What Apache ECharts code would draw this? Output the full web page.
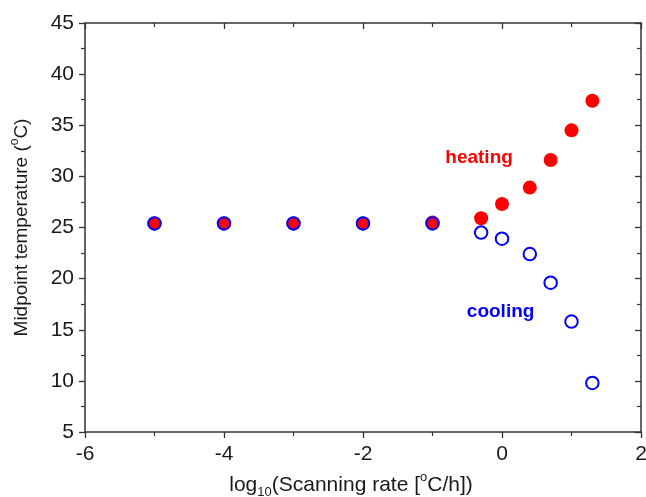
<!DOCTYPE html>
<html>
<head>
<meta charset="utf-8">
<script src="https://cdn.jsdelivr.net/npm/echarts@6/dist/echarts.min.js"></script>
<style>
  html, body { margin: 0; padding: 0; background: #fff; }
  #chart { width: 646px; height: 497px; }
</style>
</head>
<body>
<div id="chart"></div>
<script>
// log10 of the scanning rate (°C/h)
const logRates = [-5, -4, -3, -2, -1, -0.3, 0, 0.4, 0.7, 1.0, 1.3];
// midpoint temperatures (°C)
const heatingTemps = [25.4, 25.4, 25.4, 25.4, 25.5, 25.9, 27.3, 28.9, 31.6, 34.5, 37.4];
const coolingTemps = [25.4, 25.4, 25.4, 25.4, 25.4, 24.5, 23.9, 22.4, 19.6, 15.8, 9.8];
// axis ranges and tick steps
const xRange = [-6, 2], xStep = 2;
const yRange = [5, 45], yStep = 5;
// in-plot annotations
const annotationText = ['heating', 'cooling'];
const annotationColor = ['#ff0000', '#0000ff'];
const annotationAt = [[-0.33, 31.8], [-0.02, 16.75]];

const FONT = '"Liberation Sans", Arial, sans-serif';
const INK = '#1a1a1a';
const LINE = '#333';

function frameAxis(extra, range, step) {
  return Object.assign({
    type: 'value',
    min: range[0],
    max: range[1],
    interval: step,
    axisLine: { show: true, onZero: false, lineStyle: { color: LINE, width: 1.5 } },
    axisTick: { show: true, inside: true, length: 6, lineStyle: { color: LINE, width: 1.3 } },
    minorTick: { show: true, splitNumber: 2, length: 4, lineStyle: { color: LINE, width: 1.2 } },
    axisLabel: { show: false },
    splitLine: { show: false },
    minorSplitLine: { show: false }
  }, extra);
}

const series = [
  {
    name: 'heating',
    type: 'scatter',
    data: logRates.map((x, i) => [x, heatingTemps[i]]),
    symbol: 'circle',
    symbolSize: 14,
    itemStyle: { color: '#ff0000', opacity: 1 },
    z: 3
  },
  {
    name: 'cooling',
    type: 'scatter',
    data: logRates.map((x, i) => [x, coolingTemps[i]]),
    symbol: 'circle',
    symbolSize: 12.5,
    itemStyle: { color: 'rgba(0,0,0,0)', borderColor: '#0000ff', borderWidth: 2, opacity: 1 },
    z: 4
  },
  {
    name: 'notes',
    type: 'scatter',
    symbolSize: 0,
    silent: true,
    itemStyle: { opacity: 1 },
    data: annotationText.map((t, i) => ({
      name: t,
      value: annotationAt[i],
      label: { color: annotationColor[i] }
    })),
    label: {
      show: true,
      position: 'inside',
      formatter: p => p.name,
      fontFamily: FONT,
      fontWeight: 'bold',
      fontSize: 19,
      opacity: 1
    },
    z: 5
  }
];

const chart = echarts.init(document.getElementById('chart'), null, { renderer: 'canvas' });
chart.setOption({
  animation: false,
  backgroundColor: '#ffffff',
  grid: { left: 85, right: 5, top: 23, bottom: 65, outerBoundsMode: 'none', containLabel: false },
  xAxis: [
    frameAxis({
      position: 'bottom',
      axisTick: { show: true, inside: false, length: 6, lineStyle: { color: LINE, width: 1.3 } },
      axisLabel: { show: true, fontFamily: FONT, fontSize: 21, color: INK, margin: 12 },
      name: '{a|log}{sub|10}{a|(Scanning rate [}{sup|o}{a|C/h])}',
      nameLocation: 'middle',
      nameGap: 39,
      nameTextStyle: {
        fontFamily: FONT,
        padding: [0, 24, 0, 0],
        rich: {
          a: { fontFamily: FONT, fontSize: 21, color: INK, verticalAlign: 'middle', lineHeight: 28 },
          sub: { fontFamily: FONT, fontSize: 13, color: INK, verticalAlign: 'bottom', lineHeight: 28 },
          sup: { fontFamily: FONT, fontSize: 13, color: INK, verticalAlign: 'top', lineHeight: 28 }
        }
      }
    }, xRange, xStep),
    frameAxis({ position: 'top' }, xRange, xStep)
  ],
  yAxis: [
    frameAxis({
      position: 'left',
      axisTick: { show: true, inside: false, length: 6, lineStyle: { color: LINE, width: 1.3 } },
      axisLabel: { show: true, fontFamily: FONT, fontSize: 21, color: INK, margin: 11 },
      name: '{a|Midpoint temperature (}{sup|o}{a|C)}',
      nameLocation: 'middle',
      nameRotate: 90,
      nameGap: 50,
      nameTextStyle: {
        fontFamily: FONT,
        rich: {
          a: { fontFamily: FONT, fontSize: 19, color: INK, verticalAlign: 'middle', lineHeight: 26 },
          sup: { fontFamily: FONT, fontSize: 12, color: INK, verticalAlign: 'top', lineHeight: 26 }
        }
      }
    }, yRange, yStep),
    frameAxis({ position: 'right' }, yRange, yStep)
  ],
  series: series
});
</script>
</body>
</html>
